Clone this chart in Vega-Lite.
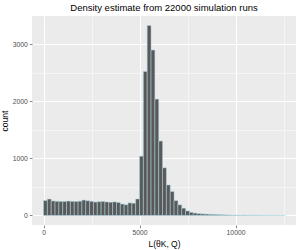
{
  "$schema": "https://vega.github.io/schema/vega-lite/v6.json",
  "width": 264,
  "height": 209,
  "autosize": "none",
  "padding": {"left": 32, "top": 16, "right": 4, "bottom": 25},
  "background": "white",
  "title": {"text": "Density estimate from 22000 simulation runs", "fontSize": 9.5, "fontWeight": "normal", "font": "Liberation Sans", "color": "black", "offset": 4, "anchor": "middle"},
  "config": {
    "view": {"fill": "#EBEBEB", "stroke": null},
    "axis": {"domain": false, "labelFont": "Liberation Sans", "titleFont": "Liberation Sans", "labelColor": "#4D4D4D", "labelFontSize": 6.8, "tickColor": "#333333", "tickSize": 2.7, "tickWidth": 0.6, "gridColor": "white", "titleFontWeight": "normal", "titleFontSize": 8.5, "titleColor": "black"}
  },
  "data": {"values": [
    {"start": 0, "end": 200, "count": 262},
    {"start": 200, "end": 400, "count": 288},
    {"start": 400, "end": 600, "count": 255},
    {"start": 600, "end": 800, "count": 248},
    {"start": 800, "end": 1000, "count": 246},
    {"start": 1000, "end": 1200, "count": 245},
    {"start": 1200, "end": 1400, "count": 252},
    {"start": 1400, "end": 1600, "count": 247},
    {"start": 1600, "end": 1800, "count": 245},
    {"start": 1800, "end": 2000, "count": 250},
    {"start": 2000, "end": 2200, "count": 270},
    {"start": 2200, "end": 2400, "count": 258},
    {"start": 2400, "end": 2600, "count": 248},
    {"start": 2600, "end": 2800, "count": 235},
    {"start": 2800, "end": 3000, "count": 242},
    {"start": 3000, "end": 3200, "count": 245},
    {"start": 3200, "end": 3400, "count": 238},
    {"start": 3400, "end": 3600, "count": 232},
    {"start": 3600, "end": 3800, "count": 238},
    {"start": 3800, "end": 4000, "count": 228},
    {"start": 4000, "end": 4200, "count": 200},
    {"start": 4200, "end": 4400, "count": 188},
    {"start": 4400, "end": 4600, "count": 220},
    {"start": 4600, "end": 4800, "count": 215},
    {"start": 4800, "end": 5000, "count": 290},
    {"start": 5000, "end": 5200, "count": 1040},
    {"start": 5200, "end": 5400, "count": 2525},
    {"start": 5400, "end": 5600, "count": 3330},
    {"start": 5600, "end": 5800, "count": 2900},
    {"start": 5800, "end": 6000, "count": 2040},
    {"start": 6000, "end": 6200, "count": 1305},
    {"start": 6200, "end": 6400, "count": 835},
    {"start": 6400, "end": 6600, "count": 535},
    {"start": 6600, "end": 6800, "count": 420},
    {"start": 6800, "end": 7000, "count": 260},
    {"start": 7000, "end": 7200, "count": 186},
    {"start": 7200, "end": 7400, "count": 128},
    {"start": 7400, "end": 7600, "count": 80},
    {"start": 7600, "end": 7800, "count": 55},
    {"start": 7800, "end": 8000, "count": 42},
    {"start": 8000, "end": 8200, "count": 32},
    {"start": 8200, "end": 8400, "count": 28},
    {"start": 8400, "end": 8600, "count": 24},
    {"start": 8600, "end": 8800, "count": 20},
    {"start": 8800, "end": 9000, "count": 18},
    {"start": 9000, "end": 9200, "count": 15},
    {"start": 9200, "end": 9400, "count": 12},
    {"start": 9400, "end": 9600, "count": 10},
    {"start": 9600, "end": 9800, "count": 7},
    {"start": 9800, "end": 10000, "count": 6},
    {"start": 10000, "end": 10200, "count": 5},
    {"start": 10200, "end": 10400, "count": 4},
    {"start": 10400, "end": 10600, "count": 6},
    {"start": 10600, "end": 10800, "count": 4},
    {"start": 10800, "end": 11000, "count": 3},
    {"start": 11000, "end": 11200, "count": 4},
    {"start": 11200, "end": 11400, "count": 3},
    {"start": 11400, "end": 11600, "count": 2},
    {"start": 11600, "end": 11800, "count": 2},
    {"start": 11800, "end": 12000, "count": 2},
    {"start": 12000, "end": 12200, "count": 1},
    {"start": 12200, "end": 12400, "count": 1},
    {"start": 12400, "end": 12600, "count": 1}
  ]},
  "layer": [
    {
      "mark": {"type": "bar", "opacity": 0},
      "encoding": {
        "x": {"field": "start", "type": "quantitative", "scale": {"domain": [-600, 13150], "nice": false, "zero": false}, "axis": {"orient": "bottom", "values": [2500, 7500, 12500], "grid": true, "gridWidth": 0.5, "labels": false, "ticks": false, "title": null}},
        "x2": {"field": "end"},
        "y": {"field": "count", "type": "quantitative", "scale": {"domain": [-167, 3497], "nice": false, "zero": false}, "axis": {"orient": "left", "values": [500, 1500, 2500], "grid": true, "gridWidth": 0.5, "labels": false, "ticks": false, "title": null}},
        "y2": {"datum": 0}
      }
    },
    {
      "mark": {"type": "bar", "fill": "#595959", "stroke": "#ADD8E6", "strokeWidth": 0.5},
      "encoding": {
        "x": {"field": "start", "type": "quantitative", "axis": {"orient": "bottom", "values": [0, 5000, 10000], "format": "d", "grid": true, "gridWidth": 1, "title": "L(θK, Q)", "labelPadding": 2, "titlePadding": 3}},
        "x2": {"field": "end"},
        "y": {"field": "count", "type": "quantitative", "axis": {"orient": "left", "values": [0, 1000, 2000, 3000], "format": "d", "grid": true, "gridWidth": 1, "title": "count", "labelPadding": 2, "titlePadding": 3}},
        "y2": {"datum": 0}
      }
    }
  ],
  "resolve": {"axis": {"x": "independent", "y": "independent"}}
}
